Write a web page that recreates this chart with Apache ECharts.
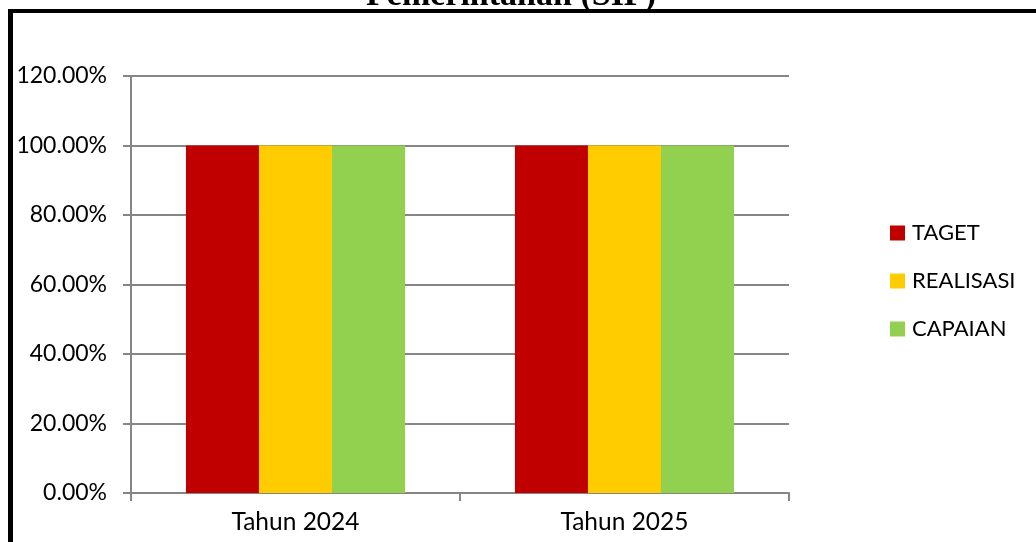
<!DOCTYPE html>
<html>
<head>
<meta charset="utf-8">
<script src="https://cdn.jsdelivr.net/npm/echarts@6/dist/echarts.min.js"></script>
<style>
  html, body { margin: 0; padding: 0; background: #fff; }
  #chart { width: 1036px; height: 542px; }
</style>
</head>
<body>
<div id="chart"></div>
<script>
// data
const categories = ['Tahun 2024', 'Tahun 2025']
const seriesNames = ['TAGET', 'REALISASI', 'CAPAIAN']
const taget = [100, 100]
const realisasi = [100, 100]
const capaian = [100, 100]
const titleText = 'Pemerintahan (SIP)'

const colors = ['#C00000', '#FFCC00', '#92D050']
const font = 'Lato, "Noto Sans", sans-serif'

const chart = echarts.init(document.getElementById('chart'))
chart.setOption({
  animation: false,
  color: colors,
  graphic: [
    // outer frame (only top and left edges are visible)
    { type: 'rect', shape: { x: 8, y: 9, width: 1028, height: 4 }, style: { fill: '#000' } },
    { type: 'rect', shape: { x: 8, y: 9, width: 5, height: 533 }, style: { fill: '#000' } },
    {
      type: 'text',
      x: 511,
      y: -21,
      style: {
        text: titleText,
        font: 'bold 34px "Liberation Serif", serif',
        fill: '#000',
        textAlign: 'center'
      }
    }
  ],
  grid: {
    left: 131,
    right: 247,
    top: 76,
    bottom: 49
  },
  legend: {
    orient: 'vertical',
    left: 885,
    top: 217,
    itemWidth: 15,
    itemHeight: 15,
    itemGap: 26,
    icon: 'rect',
    textStyle: { fontFamily: font, fontSize: 22, color: '#000', padding: [0, 0, 0, 2] },
    data: seriesNames
  },
  xAxis: {
    type: 'category',
    data: categories,
    axisLine: { lineStyle: { color: '#868686', width: 2 } },
    axisTick: { show: true, length: 8, lineStyle: { color: '#868686', width: 2 } },
    axisLabel: { fontFamily: font, fontSize: 24.5, color: '#000', margin: 17 }
  },
  yAxis: {
    type: 'value',
    min: 0,
    max: 120,
    interval: 20,
    axisLine: { show: true, lineStyle: { color: '#868686', width: 2 } },
    axisTick: { show: true, length: 8, lineStyle: { color: '#868686', width: 2 } },
    splitLine: { lineStyle: { color: '#868686', width: 2 } },
    axisLabel: {
      fontFamily: font,
      fontSize: 23,
      color: '#000',
      margin: 24,
      formatter: v => v.toFixed(2) + '%'
    }
  },
  series: [
    { name: seriesNames[0], type: 'bar', data: taget, barGap: 0, barCategoryGap: '33.4%' },
    { name: seriesNames[1], type: 'bar', data: realisasi, barGap: 0, barCategoryGap: '33.4%' },
    { name: seriesNames[2], type: 'bar', data: capaian, barGap: 0, barCategoryGap: '33.4%' }
  ]
})
</script>
</body>
</html>
